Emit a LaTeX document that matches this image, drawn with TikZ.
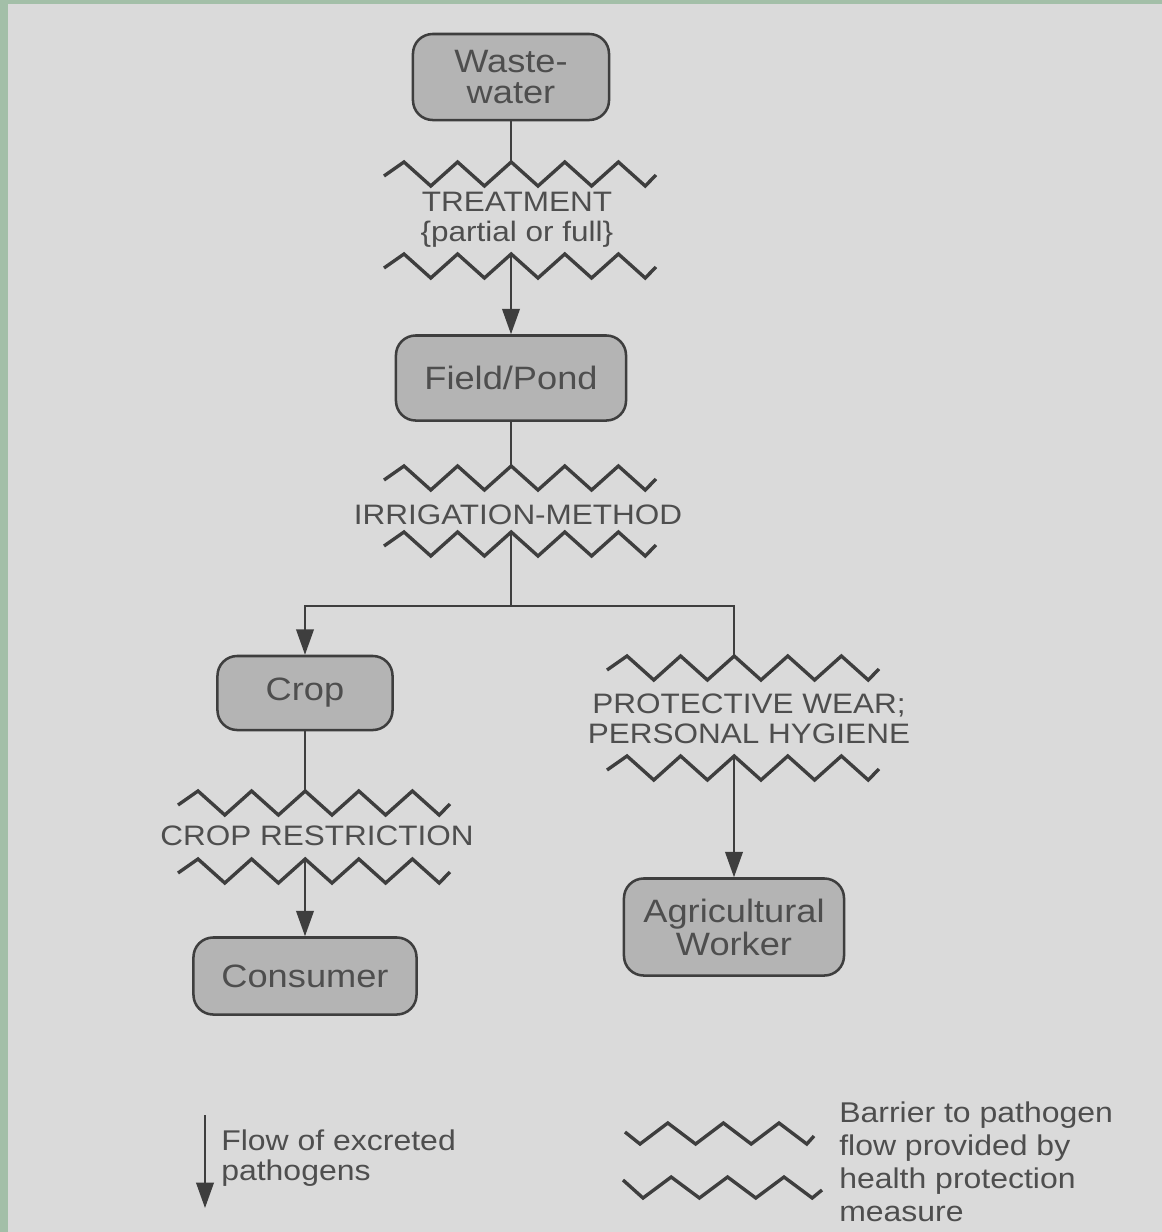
\documentclass[tikz,border=0pt]{standalone}
\usepackage{fontspec}
\setmainfont{Liberation Sans}[FakeStretch=1.12]
\usepackage{tikz}
\usetikzlibrary{positioning, arrows.meta}
\definecolor{frame}{RGB}{163,191,168}
\definecolor{paper}{RGB}{218,218,218}
\definecolor{boxfill}{RGB}{180,180,180}
\definecolor{ink}{RGB}{62,62,62}
\definecolor{inktext}{RGB}{78,78,78}

\begin{document}
\begin{tikzpicture}[x=0.025cm, y=-0.025cm,
  stage/.style={draw=ink, line width=1.8pt, fill=boxfill, rounded corners=14pt,
                align=center, text=inktext, inner sep=0pt,
                font=\fontsize{23}{22}\selectfont},
  measure/.style={align=center, text=inktext, inner sep=0pt,
                  font=\fontsize{20}{21}\selectfont},
  keytext/.style={align=left, text=inktext, inner sep=0pt, anchor=west},
  wave/.style={draw=ink, line width=2.4pt},
  link/.style={draw=ink, line width=1.3pt},
  flow/.style={link, -{Triangle[length=18pt, width=12.5pt]}},
  barrier/.pic={
    \draw[wave] (-127,14) foreach \k in {0,...,9} { -- ({-107+26.8*\k},{24*mod(\k,2)}) } -- (145,13);
    \coordinate (-c) at (0,0);
  },
]
  % Page and scan margin
  \fill[frame] (0,0) rectangle (1162,1232);
  \fill[paper] (8,4) rectangle (1162,1232);
  \useasboundingbox (0,0) rectangle (1162,1232);

  % Stages
  \node[stage, minimum width=4.9cm, minimum height=2.15cm] (waste) at (511,77) {Waste-\\water};
  \node[stage, minimum width=5.75cm, minimum height=2.125cm] (field) at (511,378) {Field/Pond};
  \node[stage, minimum width=4.375cm, minimum height=1.85cm] (crop) at (305,693) {Crop};
  \node[stage, minimum width=5.575cm, minimum height=1.925cm] (consumer) at (305,976) {Consumer};
  \node[stage, minimum width=5.5cm, minimum height=2.425cm, font=\fontsize{23}{23.5}\selectfont]
    (worker) at (734,927) {Agricultural\\Worker};

  % Barriers
  \pic (treatTop) at (511,162) {barrier};
  \pic (treatBot) at (511,254) {barrier};
  \pic (irrTop) at (511,466) {barrier};
  \pic (irrBot) at (511,532) {barrier};
  \pic (wearTop) at (734,656) {barrier};
  \pic (wearBot) at (734,756) {barrier};
  \pic (cropTop) at (305,791) {barrier};
  \pic (cropBot) at (305,859) {barrier};

  \node[measure] (treatment) at (517,220) {TREATMENT\\\{partial or full\}};
  \node[measure] (irrigation) at (518,515) {IRRIGATION-METHOD};
  \node[measure] (wear) at (749,719) {PROTECTIVE WEAR;\\PERSONAL HYGIENE};
  \node[measure] (restriction) at (317,836) {CROP RESTRICTION};

  % Pathogen flow
  \coordinate (split) at (511,606);
  \draw[link] (waste.south) -- (treatTop-c);
  \draw[flow] (treatBot-c) -- (field.north);
  \draw[link] (field.south) -- (irrTop-c);
  \draw[link] (irrBot-c) -- (split);
  \draw[flow] (split) -| (crop.north);
  \draw[link] (split) -| (wearTop-c);
  \draw[link] (crop.south) -- (cropTop-c);
  \draw[flow] (cropBot-c) -- (consumer.north);
  \draw[flow] (wearBot-c) -- (worker.north);

  % Key
  \coordinate (keyTop) at (205,1115);
  \coordinate (keyTip) at (205,1208);
  \draw[flow] (keyTop) -- (keyTip);
  \node[keytext, font=\fontsize{20.3}{21.3}\selectfont] (flowKey) at (221,1158)
    {Flow of excreted\\pathogens};
  \draw[wave] (625,1132) foreach \k in {0,...,6} { -- ({640+27.8*\k},{1144-21*mod(\k,2)}) } -- (814,1136);
  \draw[wave] (623,1180) foreach \k in {0,...,6} { -- ({643+28.2*\k},{1198-21*mod(\k,2)}) } -- (822,1190);
  \node[keytext, font=\fontsize{20.3}{23.5}\selectfont] (barrierKey) at (839,1162)
    {Barrier to pathogen\\flow provided by\\health protection\\measure};
\end{tikzpicture}
\end{document}
